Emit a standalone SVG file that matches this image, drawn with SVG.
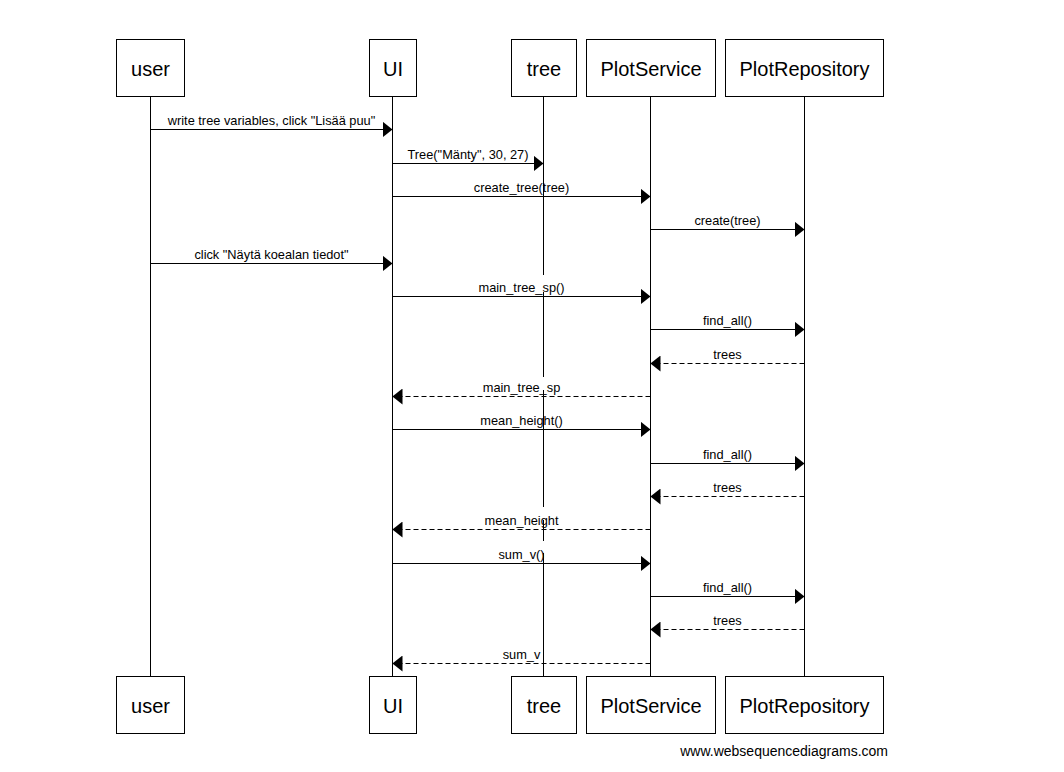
<svg xmlns="http://www.w3.org/2000/svg" width="1064" height="772" viewBox="0 0 1064 772">
<defs>
<style>
.bg{fill:#fff}
.box{fill:#fff;stroke:#000;stroke-width:1}
.name{font-family:"Liberation Sans",Arial,sans-serif;font-size:20px;text-anchor:middle;fill:#000}
.life{stroke:#000;stroke-width:1;fill:none}
.msg{stroke:#000;stroke-width:1;fill:none}
.ret{stroke-dasharray:5,3}
.lbl{font-family:"Liberation Sans",Arial,sans-serif;font-size:12.8px;text-anchor:middle;fill:#000}
.foot{font-family:"Liberation Sans",Arial,sans-serif;font-size:14px;text-anchor:end;fill:#000}
</style>
<marker id="ah" markerUnits="userSpaceOnUse" markerWidth="10" markerHeight="16" refX="10" refY="8" orient="auto">
<path d="M0,0 L10,8 L0,16 Z" fill="#000"/>
</marker>
</defs>
<rect class="bg" x="0" y="0" width="1064" height="772"/>
<g id="lifelines">
<line class="life" x1="150.5" y1="96.5" x2="150.5" y2="676.5"/>
<line class="life" x1="392.5" y1="96.5" x2="392.5" y2="676.5"/>
<path class="life" d="M543.5,96.5 V275 M543.5,292 V377 M543.5,390 V507 M543.5,520 V541 M543.5,553 V676.5"/>
<line class="life" x1="650.5" y1="96.5" x2="650.5" y2="676.5"/>
<line class="life" x1="804.5" y1="96.5" x2="804.5" y2="676.5"/>
</g>
<g id="user">
<rect class="box" x="116.5" y="39.5" width="68" height="57"/>
<text class="name" x="150.5" y="76">user</text>
<rect class="box" x="116.5" y="676.5" width="68" height="57"/>
<text class="name" x="150.5" y="713">user</text>
</g>
<g id="UI">
<rect class="box" x="369.5" y="39.5" width="47" height="57"/>
<text class="name" x="393" y="76">UI</text>
<rect class="box" x="369.5" y="676.5" width="47" height="57"/>
<text class="name" x="393" y="713">UI</text>
</g>
<g id="tree">
<rect class="box" x="511.5" y="39.5" width="65" height="57"/>
<text class="name" x="544" y="76">tree</text>
<rect class="box" x="511.5" y="676.5" width="65" height="57"/>
<text class="name" x="544" y="713">tree</text>
</g>
<g id="PlotService">
<rect class="box" x="586.5" y="39.5" width="129" height="57"/>
<text class="name" x="651" y="76">PlotService</text>
<rect class="box" x="586.5" y="676.5" width="129" height="57"/>
<text class="name" x="651" y="713">PlotService</text>
</g>
<g id="PlotRepository">
<rect class="box" x="725.5" y="39.5" width="158" height="57"/>
<text class="name" x="804.5" y="76">PlotRepository</text>
<rect class="box" x="725.5" y="676.5" width="158" height="57"/>
<text class="name" x="804.5" y="713">PlotRepository</text>
</g>
<g id="connectors">
<line class="msg" x1="150.5" y1="129.5" x2="392.5" y2="129.5" marker-end="url(#ah)"/>
<line class="msg" x1="392.5" y1="163.5" x2="543.5" y2="163.5" marker-end="url(#ah)"/>
<line class="msg" x1="392.5" y1="196.5" x2="650.5" y2="196.5" marker-end="url(#ah)"/>
<line class="msg" x1="650.5" y1="229.5" x2="804.5" y2="229.5" marker-end="url(#ah)"/>
<line class="msg" x1="150.5" y1="263.5" x2="392.5" y2="263.5" marker-end="url(#ah)"/>
<line class="msg" x1="392.5" y1="296.5" x2="650.5" y2="296.5" marker-end="url(#ah)"/>
<line class="msg" x1="650.5" y1="329.5" x2="804.5" y2="329.5" marker-end="url(#ah)"/>
<line class="msg ret" x1="804.5" y1="363.5" x2="650.5" y2="363.5" marker-end="url(#ah)"/>
<line class="msg ret" x1="650.5" y1="396.5" x2="392.5" y2="396.5" marker-end="url(#ah)"/>
<line class="msg" x1="392.5" y1="429.5" x2="650.5" y2="429.5" marker-end="url(#ah)"/>
<line class="msg" x1="650.5" y1="463.5" x2="804.5" y2="463.5" marker-end="url(#ah)"/>
<line class="msg ret" x1="804.5" y1="496.5" x2="650.5" y2="496.5" marker-end="url(#ah)"/>
<line class="msg ret" x1="650.5" y1="529.5" x2="392.5" y2="529.5" marker-end="url(#ah)"/>
<line class="msg" x1="392.5" y1="563.5" x2="650.5" y2="563.5" marker-end="url(#ah)"/>
<line class="msg" x1="650.5" y1="596.5" x2="804.5" y2="596.5" marker-end="url(#ah)"/>
<line class="msg ret" x1="804.5" y1="629.5" x2="650.5" y2="629.5" marker-end="url(#ah)"/>
<line class="msg ret" x1="650.5" y1="663.5" x2="392.5" y2="663.5" marker-end="url(#ah)"/>
<text class="lbl" x="271.5" y="125">write tree variables, click "Lisää puu"</text>
<text class="lbl" x="468" y="159">Tree("Mänty", 30, 27)</text>
<text class="lbl" x="521.5" y="192">create_tree(tree)</text>
<text class="lbl" x="727.5" y="225">create(tree)</text>
<text class="lbl" x="271.5" y="259">click "Näytä koealan tiedot"</text>
<text class="lbl" x="521.5" y="292">main_tree_sp()</text>
<text class="lbl" x="727.5" y="325">find_all()</text>
<text class="lbl" x="727.5" y="359">trees</text>
<text class="lbl" x="521.5" y="392">main_tree_sp</text>
<text class="lbl" x="521.5" y="425">mean_height()</text>
<text class="lbl" x="727.5" y="459">find_all()</text>
<text class="lbl" x="727.5" y="492">trees</text>
<text class="lbl" x="521.5" y="525">mean_height</text>
<text class="lbl" x="521.5" y="559">sum_v()</text>
<text class="lbl" x="727.5" y="592">find_all()</text>
<text class="lbl" x="727.5" y="625">trees</text>
<text class="lbl" x="521.5" y="659">sum_v</text>
</g>
<text class="foot" x="888" y="756">www.websequencediagrams.com</text>
</svg>
